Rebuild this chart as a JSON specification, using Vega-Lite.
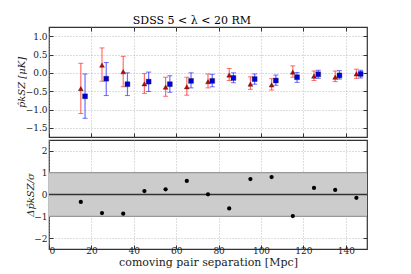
{
  "$schema": "https://vega.github.io/schema/vega-lite/v6.json",
  "background": "white",
  "padding": {"left": 15, "top": 14, "right": 5, "bottom": 5},
  "title": {"text": "SDSS 5 < λ < 20 RM", "font": "DejaVu Serif", "fontSize": 11, "fontWeight": "normal", "anchor": "middle", "offset": 0},
  "config": {
    "font": "DejaVu Serif",
    "view": {"stroke": "#333333", "strokeWidth": 1.2},
    "axis": {
      "labelFont": "DejaVu Serif", "labelFontSize": 9, "labelColor": "#222222", "labelOverlap": false,
      "titleFont": "DejaVu Serif", "titleFontWeight": "normal", "titleColor": "#222222",
      "grid": true, "gridColor": "#aaaaaa", "gridDash": [1, 2], "gridWidth": 0.8,
      "domain": false, "tickColor": "#333333", "tickSize": -4, "labelPadding": 6
    }
  },
  "datasets": {
    "main": [
      {"sep": 15, "group": "CG", "val": -0.43, "lo": -1.11, "hi": 0.26},
      {"sep": 25, "group": "CG", "val": 0.21, "lo": -0.23, "hi": 0.68},
      {"sep": 35, "group": "CG", "val": 0.03, "lo": -0.38, "hi": 0.45},
      {"sep": 45, "group": "CG", "val": -0.30, "lo": -0.56, "hi": -0.02},
      {"sep": 55, "group": "CG", "val": -0.39, "lo": -0.64, "hi": -0.12},
      {"sep": 65, "group": "CG", "val": -0.38, "lo": -0.61, "hi": -0.12},
      {"sep": 75, "group": "CG", "val": -0.24, "lo": -0.41, "hi": -0.03},
      {"sep": 85, "group": "CG", "val": -0.06, "lo": -0.21, "hi": 0.12},
      {"sep": 95, "group": "CG", "val": -0.31, "lo": -0.45, "hi": -0.11},
      {"sep": 105, "group": "CG", "val": -0.33, "lo": -0.47, "hi": -0.16},
      {"sep": 115, "group": "CG", "val": 0.02, "lo": -0.12, "hi": 0.19},
      {"sep": 125, "group": "CG", "val": -0.09, "lo": -0.21, "hi": 0.05},
      {"sep": 135, "group": "CG", "val": -0.12, "lo": -0.24, "hi": 0.05},
      {"sep": 145, "group": "CG", "val": -0.03, "lo": -0.15, "hi": 0.10},
      {"sep": 17, "group": "BG", "val": -0.64, "lo": -1.24, "hi": -0.03},
      {"sep": 27, "group": "BG", "val": -0.16, "lo": -0.62, "hi": 0.28},
      {"sep": 37, "group": "BG", "val": -0.31, "lo": -0.62, "hi": 0.0},
      {"sep": 47, "group": "BG", "val": -0.24, "lo": -0.51, "hi": 0.02},
      {"sep": 57, "group": "BG", "val": -0.31, "lo": -0.53, "hi": -0.08},
      {"sep": 67, "group": "BG", "val": -0.22, "lo": -0.41, "hi": 0.0},
      {"sep": 77, "group": "BG", "val": -0.22, "lo": -0.38, "hi": -0.04},
      {"sep": 87, "group": "BG", "val": -0.14, "lo": -0.27, "hi": 0.0},
      {"sep": 97, "group": "BG", "val": -0.17, "lo": -0.31, "hi": -0.03},
      {"sep": 107, "group": "BG", "val": -0.21, "lo": -0.34, "hi": -0.06},
      {"sep": 117, "group": "BG", "val": -0.12, "lo": -0.26, "hi": 0.01},
      {"sep": 127, "group": "BG", "val": -0.04, "lo": -0.15, "hi": 0.07},
      {"sep": 137, "group": "BG", "val": -0.07, "lo": -0.17, "hi": 0.06},
      {"sep": 147, "group": "BG", "val": -0.03, "lo": -0.14, "hi": 0.07}
    ],
    "ratio": [
      {"sep": 15, "r": -0.34}, {"sep": 25, "r": -0.85}, {"sep": 35, "r": -0.88},
      {"sep": 45, "r": 0.16}, {"sep": 55, "r": 0.24}, {"sep": 65, "r": 0.62},
      {"sep": 75, "r": 0.01}, {"sep": 85, "r": -0.64}, {"sep": 95, "r": 0.71},
      {"sep": 105, "r": 0.80}, {"sep": 115, "r": -0.99}, {"sep": 125, "r": 0.30},
      {"sep": 135, "r": 0.21}, {"sep": 145, "r": -0.15}
    ],
    "band": [{"lo": -1, "hi": 1}],
    "zero": [{"y": 0}],
    "edges": [{"y": -1}, {"y": 1}]
  },
  "spacing": 0,
  "vconcat": [
    {
      "width": 318, "height": 110,
      "data": {"name": "main"},
      "resolve": {"axis": {"x": "independent", "y": "independent"}},
      "layer": [
        {
          "mark": {"type": "rule", "strokeWidth": 1.2, "opacity": 0.7},
          "encoding": {
            "x": {"field": "sep", "type": "quantitative", "scale": {"domain": [0, 150], "nice": false}, "axis": {"values": [0, 20, 40, 60, 80, 100, 120, 140], "labels": false, "title": null}},
            "y": {"field": "lo", "type": "quantitative", "scale": {"domain": [-1.75, 1.25], "nice": false, "zero": false}, "axis": {"tickCount": 6, "format": ".1f", "labelOverlap": false, "title": "p̂kSZ [μK]", "titleFontSize": 10, "titleFontStyle": "italic", "titleX": -28, "titleBaseline": "middle"}},
            "y2": {"field": "hi"},
            "color": {"field": "group", "type": "nominal", "scale": {"domain": ["CG", "BG"], "range": ["#ff3030", "#3030ff"]}, "legend": null}
          }
        },
        {
          "mark": {"type": "tick", "thickness": 1, "size": 5, "orient": "horizontal", "opacity": 0.7},
          "encoding": {
            "x": {"field": "sep", "type": "quantitative", "axis": {"orient": "top", "values": [0, 20, 40, 60, 80, 100, 120, 140], "labels": false, "grid": false, "title": null}},
            "y": {"field": "lo", "type": "quantitative", "axis": {"orient": "right", "tickCount": 6, "labels": false, "grid": false, "title": null}},
            "color": {"field": "group", "type": "nominal", "legend": null}
          }
        },
        {
          "mark": {"type": "tick", "thickness": 1, "size": 5, "orient": "horizontal", "opacity": 0.7},
          "encoding": {
            "x": {"field": "sep", "type": "quantitative", "axis": null},
            "y": {"field": "hi", "type": "quantitative", "axis": null},
            "color": {"field": "group", "type": "nominal", "legend": null}
          }
        },
        {
          "mark": {"type": "point", "filled": true, "opacity": 1, "stroke": "#222222", "strokeWidth": 0.4},
          "encoding": {
            "x": {"field": "sep", "type": "quantitative", "axis": null},
            "y": {"field": "val", "type": "quantitative", "axis": null},
            "fill": {"field": "group", "type": "nominal", "scale": {"domain": ["CG", "BG"], "range": ["#cc0000", "#0000dd"]}, "legend": {"title": null, "orient": "top-right", "labelFont": "DejaVu Serif", "labelFontSize": 10, "symbolSize": 28, "offset": 6, "rowPadding": 3, "symbolStrokeWidth": 0.4}},
            "shape": {"field": "group", "type": "nominal", "scale": {"domain": ["CG", "BG"], "range": ["triangle-up", "square"]}, "legend": {"title": null, "orient": "top-right"}},
            "size": {"value": 24}
          }
        }
      ]
    },
    {
      "width": 318, "height": 109,
      "resolve": {"axis": {"y": "independent"}},
      "layer": [
        {
          "data": {"name": "band"},
          "mark": {"type": "rect", "color": "#cccccc"},
          "encoding": {
            "y": {"field": "lo", "type": "quantitative", "scale": {"domain": [-2.5, 2.5], "nice": false}, "axis": {"tickCount": 5, "format": "d", "labelOverlap": false, "title": "Δp̂kSZ/σ", "titleFontSize": 10, "titleFontStyle": "italic", "titleX": -19, "titleBaseline": "middle"}},
            "y2": {"field": "hi"}
          }
        },
        {
          "data": {"name": "edges"},
          "mark": {"type": "rule", "color": "#999999", "strokeWidth": 1.2},
          "encoding": {"y": {"field": "y", "type": "quantitative", "axis": {"orient": "right", "tickCount": 5, "labels": false, "grid": false, "title": null}}}
        },
        {
          "data": {"name": "zero"},
          "mark": {"type": "rule", "color": "#333333", "strokeWidth": 1.4},
          "encoding": {"y": {"field": "y", "type": "quantitative", "axis": null}}
        },
        {
          "data": {"name": "ratio"},
          "mark": {"type": "circle", "color": "black", "opacity": 1, "size": 18},
          "encoding": {
            "x": {"field": "sep", "type": "quantitative", "scale": {"domain": [0, 150], "nice": false}, "axis": {"values": [0, 20, 40, 60, 80, 100, 120, 140], "title": "comoving pair separation [Mpc]", "titleFontSize": 11, "labelPadding": 1, "titlePadding": 1}},
            "y": {"field": "r", "type": "quantitative", "axis": null}
          }
        }
      ]
    }
  ]
}
